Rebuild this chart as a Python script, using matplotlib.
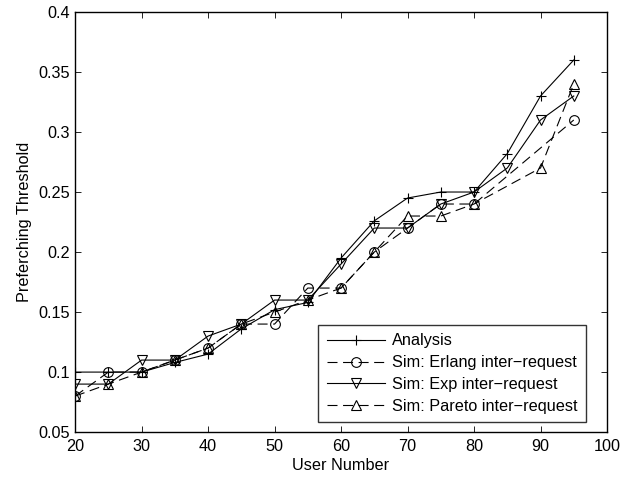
import matplotlib
matplotlib.use('Agg')
import matplotlib.pyplot as plt

plt.rcParams['font.family'] = ['Liberation Sans', 'DejaVu Sans']

users = [20, 25, 30, 35, 40, 45, 50, 55, 60, 65, 70, 75, 80, 85, 90, 95]
analysis = [0.1, 0.1, 0.1, 0.108, 0.115, 0.136, 0.152, 0.158, 0.195, 0.226,
            0.245, 0.25, 0.25, 0.282, 0.33, 0.36]

users_erlang = [20, 25, 30, 35, 40, 45, 50, 55, 60, 65, 70, 75, 80, 95]
erlang = [0.08, 0.1, 0.1, 0.11, 0.12, 0.14, 0.14, 0.17, 0.17, 0.2,
          0.22, 0.24, 0.24, 0.31]

exp_sim = [0.09, 0.09, 0.11, 0.11, 0.13, 0.14, 0.16, 0.16, 0.19, 0.22,
           0.22, 0.24, 0.25, 0.27, 0.31, 0.33]

users_pareto = [20, 25, 30, 35, 40, 45, 50, 55, 60, 65, 70, 75, 80, 90, 95]
pareto = [0.08, 0.09, 0.1, 0.11, 0.12, 0.14, 0.15, 0.16, 0.17, 0.2,
          0.23, 0.23, 0.24, 0.27, 0.34]

fs = 11.7

fig = plt.figure(figsize=(6.31, 4.78), dpi=100)
ax = fig.add_axes([0.119, 0.096, 0.843, 0.879])

kw = dict(color='black', linewidth=0.8, markersize=7, fillstyle='none',
          markeredgewidth=0.8)
ax.plot(users, analysis, '-+', label='Analysis', **kw)
ax.plot(users_erlang, erlang, '--o', dashes=(9, 5), label='Sim: Erlang inter\u2212request', **kw)
ax.plot(users, exp_sim, '-v', label='Sim: Exp inter\u2212request', **kw)
ax.plot(users_pareto, pareto, '--^', dashes=(9, 5), label='Sim: Pareto inter\u2212request', **kw)

ax.set_xlim(20, 100)
ax.set_ylim(0.05, 0.4)
ax.set_xticks(range(20, 101, 10))
ax.set_yticks([0.05, 0.1, 0.15, 0.2, 0.25, 0.3, 0.35, 0.4])
ax.set_yticklabels(['0.05', '0.1', '0.15', '0.2', '0.25', '0.3', '0.35', '0.4'])
ax.tick_params(direction='in', top=True, right=True, labelsize=fs, length=4, width=0.6)
ax.tick_params(axis='x', pad=5)
for s in ax.spines.values():
    s.set_linewidth(1.0)

ax.set_xlabel('User Number', fontsize=fs, labelpad=3)
ax.set_ylabel('Preferching Threshold', fontsize=fs, labelpad=5)

# legend box right edge ~x=586px, bottom ~y=422px
leg = ax.legend(loc='lower right', bbox_to_anchor=(0.9605, 0.024), fontsize=fs,
                handlelength=3.6, frameon=True, fancybox=False, edgecolor='black',
                borderaxespad=0, labelspacing=0.42, borderpad=0.5, handletextpad=0.45)
leg.get_frame().set_linewidth(1.0)

plt.savefig('out.png', dpi=100)
